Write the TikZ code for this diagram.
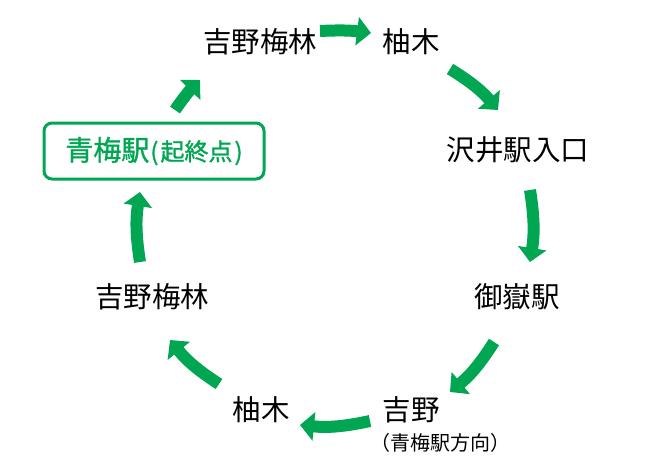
\documentclass[tikz,border=0pt]{standalone}
\usepackage{fontspec}
\setmainfont{Noto Sans CJK JP}
\newfontfamily\medfont[FakeBold=1.2]{Noto Sans CJK JP}
\usetikzlibrary{arrows.meta}
\definecolor{grn}{RGB}{0,166,81}
\tikzset{
  lbl/.style={font=\fontsize{28.5}{31}\selectfont, inner sep=0pt, anchor=center},
  garrow/.style={draw=grn, line width=12pt, -{Triangle[width=28pt,length=14pt]}, bend left=#1},
  garrow/.default=9
}
\begin{document}
\begin{tikzpicture}[x=1pt,y=-1pt]
\useasboundingbox (0,0) rectangle (650,471);
\node[lbl] (t1) at (260,42) {吉野梅林};
\node[lbl] (t2) at (411,42) {柚木};
\node[lbl] (t3) at (518,150) {沢井駅入口};
\node[lbl] (t4) at (517,297) {御嶽駅};
\node[lbl] (t5) at (411,410) {吉野};
\node[font=\fontsize{20}{22}\selectfont, inner sep=0pt] (t5b) at (440,443) {（青梅駅方向）};
\node[lbl] (t6) at (261,410) {柚木};
\node[lbl] (t7) at (152,297) {吉野梅林};
\node[draw=grn, line width=3pt, rounded corners=8pt, minimum width=220pt, minimum height=56pt, text=grn, inner sep=0pt] (st) at (154,151)
  {\medfont\fontsize{28}{30}\selectfont 青梅駅\fontsize{24}{26}\selectfont\kern1pt(\kern2pt起終点\kern2pt)};
\coordinate (a1s) at (320,31); \coordinate (a1e) at (371,33);
\coordinate (a2s) at (450,69); \coordinate (a2e) at (498,110);
\coordinate (a3s) at (530,190); \coordinate (a3e) at (530,262);
\coordinate (a4s) at (494,342); \coordinate (a4e) at (450,392);
\coordinate (a5s) at (370,421); \coordinate (a5e) at (300,425);
\coordinate (a6s) at (219,384); \coordinate (a6e) at (170,340);
\coordinate (a7s) at (140,262); \coordinate (a7e) at (140,192);
\coordinate (a8s) at (175,110); \coordinate (a8e) at (200,80);
\draw[garrow=5] (a1s) to (a1e);
\draw[garrow] (a2s) to (a2e);
\draw[garrow] (a3s) to (a3e);
\draw[garrow] (a4s) to (a4e);
\draw[garrow] (a5s) to (a5e);
\draw[garrow] (a6s) to (a6e);
\draw[garrow] (a7s) to (a7e);
\draw[garrow=5] (a8s) to (a8e);
\end{tikzpicture}
\end{document}
